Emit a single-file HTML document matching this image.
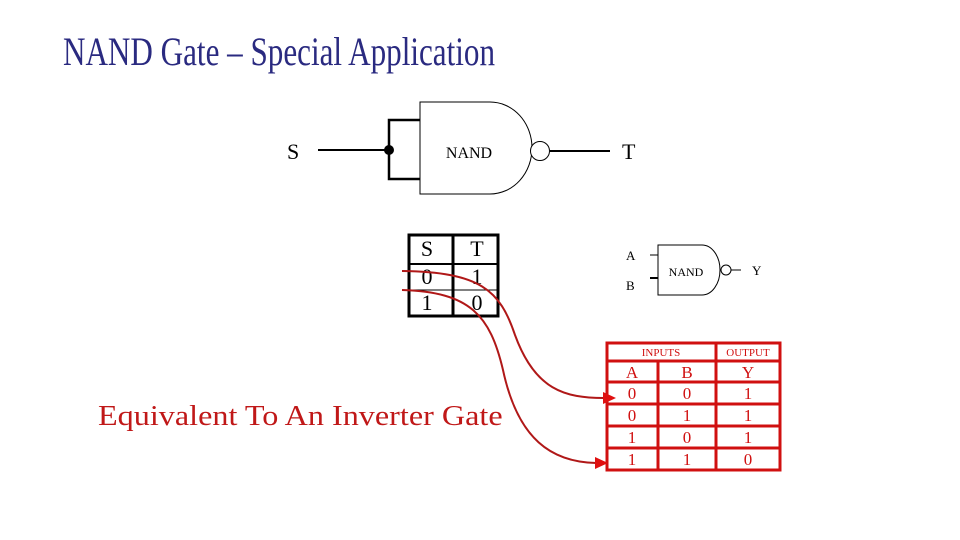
<!DOCTYPE html>
<html><head><meta charset="utf-8"><style>
html,body{margin:0;padding:0;background:#fff;}
svg{display:block;}
</style></head><body>
<svg width="960" height="540" viewBox="0 0 960 540" xmlns="http://www.w3.org/2000/svg" font-family="Liberation Serif, serif">
<rect width="960" height="540" fill="#fff"/>
<text x="63" y="65" font-size="40" fill="#2a2a80" textLength="432" lengthAdjust="spacingAndGlyphs">NAND Gate – Special Application</text>

<text x="287" y="159" font-size="22">S</text>
<line x1="318" y1="150" x2="390" y2="150" stroke="#000" stroke-width="2"/>
<circle cx="389" cy="150" r="5" fill="#000"/>
<polyline points="420,120 389,120 389,179 420,179" fill="none" stroke="#000" stroke-width="2.5"/>
<path d="M420,102 L490,102 A42,46 0 0 1 490,194 L420,194 Z" fill="none" stroke="#000" stroke-width="1"/>
<text x="469" y="158" font-size="16" text-anchor="middle">NAND</text>
<circle cx="540" cy="151" r="9.5" fill="#fff" stroke="#000" stroke-width="1"/>
<line x1="550" y1="151" x2="610" y2="151" stroke="#000" stroke-width="2"/>
<text x="622" y="159" font-size="22">T</text>

<rect x="409" y="235" width="89" height="81" fill="none" stroke="#000" stroke-width="3"/>
<line x1="453" y1="235" x2="453" y2="316" stroke="#000" stroke-width="3"/>
<line x1="409" y1="264" x2="498" y2="264" stroke="#000" stroke-width="2"/>
<line x1="409" y1="290" x2="498" y2="290" stroke="#000" stroke-width="1"/>
<g font-size="22" text-anchor="middle">
<text x="427" y="256">S</text><text x="477" y="256">T</text>
<text x="427" y="284">0</text><text x="477" y="284">1</text>
<text x="427" y="310">1</text><text x="477" y="310">0</text>
</g>

<g font-size="13">
<text x="626" y="260">A</text><text x="626" y="290">B</text>
<text x="686" y="276" text-anchor="middle" font-size="12">NAND</text>
<text x="752" y="275">Y</text>
</g>
<line x1="650" y1="255" x2="658" y2="255" stroke="#000" stroke-width="1"/>
<line x1="650" y1="278" x2="658" y2="278" stroke="#000" stroke-width="2"/>
<path d="M658,245 L702,245 A18,25 0 0 1 702,295 L658,295 Z" fill="none" stroke="#000" stroke-width="1"/>
<circle cx="726" cy="270" r="5" fill="#fff" stroke="#000" stroke-width="1"/>
<line x1="731" y1="270" x2="741" y2="270" stroke="#000" stroke-width="1"/>

<g stroke="#d01010" fill="none">
<rect x="607" y="343" width="173" height="127" stroke-width="3"/>
<line x1="607" y1="361" x2="780" y2="361" stroke-width="3"/>
<line x1="607" y1="382" x2="780" y2="382" stroke-width="3"/>
<line x1="607" y1="404" x2="780" y2="404" stroke-width="3"/>
<line x1="607" y1="426" x2="780" y2="426" stroke-width="3"/>
<line x1="607" y1="448" x2="780" y2="448" stroke-width="3"/>
<line x1="658" y1="361" x2="658" y2="470" stroke-width="3"/>
<line x1="716" y1="343" x2="716" y2="470" stroke-width="3"/>
</g>
<g fill="#d01010" text-anchor="middle">
<text x="661" y="356" font-size="11">INPUTS</text>
<text x="748" y="356" font-size="11">OUTPUT</text>
<g font-size="17">
<text x="632" y="378">A</text><text x="687" y="378">B</text><text x="748" y="378">Y</text>
<text x="632" y="399">0</text><text x="687" y="399">0</text><text x="748" y="399">1</text>
<text x="632" y="421">0</text><text x="687" y="421">1</text><text x="748" y="421">1</text>
<text x="632" y="443">1</text><text x="687" y="443">0</text><text x="748" y="443">1</text>
<text x="632" y="465">1</text><text x="687" y="465">1</text><text x="748" y="465">0</text>
</g>
</g>

<g stroke="#b01818" stroke-width="2" fill="none">
<path d="M402,271 C480,272 500,290 515,335 C535,390 565,398 604,398"/>
<path d="M402,290 C470,292 490,315 503,370 C518,440 552,462 596,463"/>
</g>
<polygon points="603,392 616,398 603,404" fill="#e01010"/>
<polygon points="595,457 608,463 595,469" fill="#e01010"/>

<text transform="translate(98,425) scale(1.11,1)" x="0" y="0" font-size="29" fill="#c01818">Equivalent To An Inverter Gate</text>
</svg>
</body></html>
